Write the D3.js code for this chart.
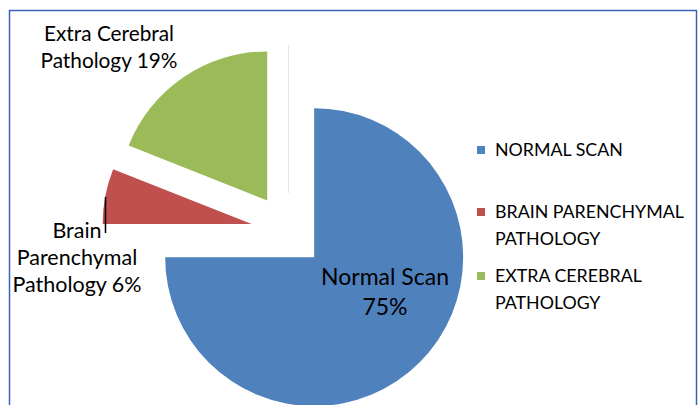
<!DOCTYPE html>
<html>
<head>
<meta charset="utf-8">
<script src="https://cdn.jsdelivr.net/npm/d3@7"></script>
<style>
  html, body { margin: 0; padding: 0; background: #fff; }
  svg { display: block; }
  text { font-family: Lato, "Noto Sans", sans-serif; fill: #000; }
</style>
</head>
<body>
<svg id="chart" width="699" height="405"></svg>
<script>
// ---- data ----
const categories = ["Normal Scan", "Brain Parenchymal Pathology", "Extra Cerebral Pathology"];
const values = [75, 6, 19];
const legendLabels = [["NORMAL SCAN"], ["BRAIN PARENCHYMAL", "PATHOLOGY"], ["EXTRA CEREBRAL", "PATHOLOGY"]];
const sliceLabels = [["Normal Scan", "75%"], ["Brain", "Parenchymal", "Pathology 6%"], ["Extra Cerebral", "Pathology 19%"]];
const colors = ["#4F81BD", "#C0504D", "#9BBB59"];

// ---- layout ----
const svg = d3.select("#chart");
const cx = 288, cy = 231, R = 149, explode = 37;

svg.append("rect")
  .attr("x", 9.5).attr("y", 10.5)
  .attr("width", 687).attr("height", 420)
  .attr("fill", "#fff").attr("stroke", "#3a62b8").attr("stroke-width", 1.5);

// faint vertical guide seen in original
svg.append("line")
  .attr("x1", cx + 0.5).attr("x2", cx + 0.5)
  .attr("y1", 45).attr("y2", 193)
  .attr("stroke", "#e4e4ec").attr("stroke-width", 1);

const pie = d3.pie().sort(null).value(d => d)(values);
const arc = d3.arc().innerRadius(0).outerRadius(R);

const g = svg.append("g").attr("transform", `translate(${cx},${cy})`);
g.selectAll("path.slice")
  .data(pie)
  .join("path")
  .attr("class", "slice")
  .attr("fill", (d, i) => colors[i])
  .attr("transform", d => {
    const m = (d.startAngle + d.endAngle) / 2;
    return `translate(${Math.sin(m) * explode},${-Math.cos(m) * explode})`;
  })
  .attr("d", arc);

// slice labels
const labelPos = [
  { x: 385, y: 285, size: 23, lh: 30 },
  { x: 77, y: 238, size: 21.5, lh: 27 },
  { x: 109, y: 41, size: 20.8, lh: 27 }
];
sliceLabels.forEach((lines, i) => {
  const p = labelPos[i];
  const t = svg.append("text")
    .attr("text-anchor", "middle")
    .style("font-size", p.size + "px");
  lines.forEach((ln, j) => {
    t.append("tspan").attr("x", p.x).attr("y", p.y + j * p.lh).text(ln);
  });
});

// leader line for Brain label
svg.append("line")
  .attr("x1", 105.5).attr("x2", 105.5)
  .attr("y1", 197).attr("y2", 233)
  .attr("stroke", "#000").attr("stroke-width", 1.5);

// legend
const legendY = [150, 212, 276];
const lg = svg.append("g");
legendLabels.forEach((lines, i) => {
  lg.append("rect")
    .attr("x", 477).attr("y", legendY[i] - 4)
    .attr("width", 8).attr("height", 8)
    .attr("fill", colors[i]);
  const t = lg.append("text").style("font-size", "17.8px");
  lines.forEach((ln, j) => {
    t.append("tspan").attr("x", 495).attr("y", legendY[i] + 6 + j * 27).text(ln);
  });
});
</script>
</body>
</html>
